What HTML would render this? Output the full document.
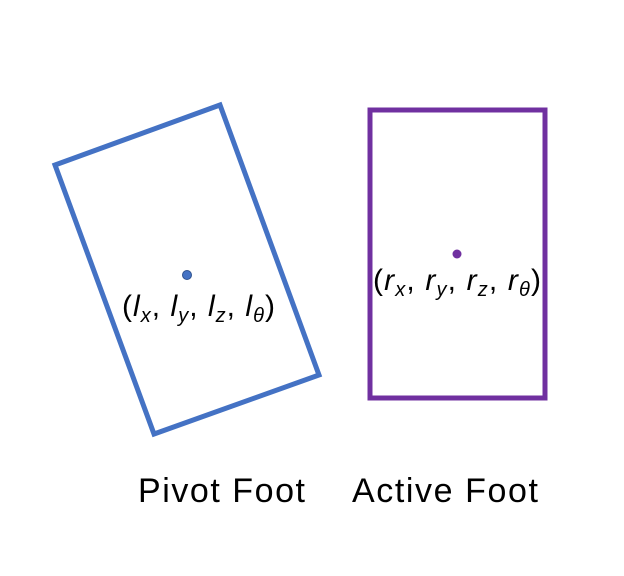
<!DOCTYPE html>
<html><head><meta charset="utf-8"><style>
html,body{margin:0;padding:0;background:#fff;}
svg{display:block;font-family:"Liberation Sans",sans-serif;}
</style></head><body>
<svg width="624" height="576" viewBox="0 0 624 576">
  <polygon points="55,165 220,105 319,375 154,434" fill="none" stroke="#4472C4" stroke-width="5"/>
  <circle cx="187" cy="275" r="4.5" fill="#4472C4" stroke="#2F528F" stroke-width="1"/>
  <text x="122" y="316" textLength="153" lengthAdjust="spacing" font-size="30" fill="#000">(<tspan font-style="italic">l</tspan><tspan font-style="italic" font-size="20" dy="6">x</tspan><tspan dy="-6">, </tspan><tspan font-style="italic">l</tspan><tspan font-style="italic" font-size="20" dy="6">y</tspan><tspan dy="-6">, </tspan><tspan font-style="italic">l</tspan><tspan font-style="italic" font-size="20" dy="6">z</tspan><tspan dy="-6">, </tspan><tspan font-style="italic">l</tspan><tspan font-style="italic" font-size="20" dy="6">θ</tspan><tspan dy="-6">)</tspan></text>
  <rect x="370" y="110" width="175" height="288" fill="none" stroke="#7030A0" stroke-width="5"/>
  <circle cx="457" cy="254" r="4.5" fill="#7030A0"/>
  <text x="373" y="290" textLength="168" lengthAdjust="spacing" font-size="30" fill="#000">(<tspan font-style="italic">r</tspan><tspan font-style="italic" font-size="20" dy="6">x</tspan><tspan dy="-6">, </tspan><tspan font-style="italic">r</tspan><tspan font-style="italic" font-size="20" dy="6">y</tspan><tspan dy="-6">, </tspan><tspan font-style="italic">r</tspan><tspan font-style="italic" font-size="20" dy="6">z</tspan><tspan dy="-6">, </tspan><tspan font-style="italic">r</tspan><tspan font-style="italic" font-size="20" dy="6">θ</tspan><tspan dy="-6">)</tspan></text>
  <text x="138" y="502" textLength="167" lengthAdjust="spacing" font-size="34" fill="#000">Pivot Foot</text>
  <text x="352" y="502" textLength="186" lengthAdjust="spacing" font-size="34" fill="#000">Active Foot</text>
</svg>
</body></html>
